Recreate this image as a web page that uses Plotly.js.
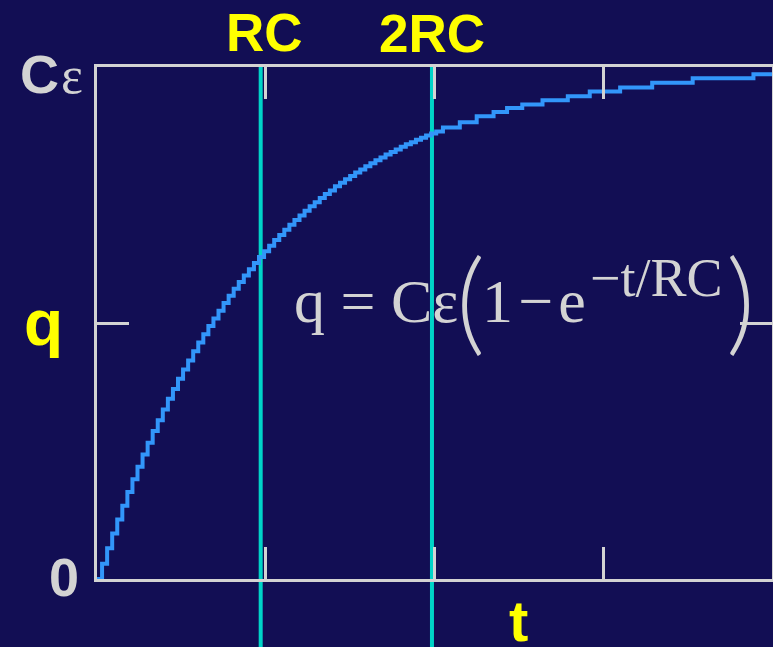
<!DOCTYPE html>
<html>
<head>
<meta charset="utf-8">
<script src="https://cdn.plot.ly/plotly-3.0.1.min.js"></script>
<style>
  html, body { margin: 0; padding: 0; background: #120e54; }
  #chart { width: 773px; height: 647px; }
</style>
</head>
<body>
<div id="chart"></div>
<script>
// Charging capacitor: charge q against time t (t in units of RC, q in units of Cε)
const tVals = [0, 0.03, 0.06, 0.09, 0.12, 0.15, 0.18, 0.21, 0.24, 0.27, 0.30, 0.33, 0.36, 0.39,
  0.42, 0.45, 0.48, 0.51, 0.54, 0.57, 0.60, 0.63, 0.66, 0.69, 0.72, 0.75, 0.78, 0.81, 0.84, 0.87,
  0.90, 0.93, 0.96, 0.99, 1.02, 1.05, 1.08, 1.11, 1.14, 1.17, 1.20, 1.23, 1.26, 1.29, 1.32, 1.35,
  1.38, 1.41, 1.44, 1.47, 1.50, 1.53, 1.56, 1.59, 1.62, 1.65, 1.68, 1.71, 1.74, 1.77, 1.80, 1.83,
  1.86, 1.89, 1.92, 1.95, 1.98, 2.01,
  2.05, 2.15, 2.25, 2.35, 2.43, 2.52, 2.64, 2.79, 2.92, 3.10, 3.29, 3.53, 3.89, 4.00];
const qVals = [0.000, 0.030, 0.060, 0.089, 0.116, 0.143, 0.170, 0.195, 0.219, 0.243, 0.266, 0.289,
  0.310, 0.331, 0.352, 0.371, 0.391, 0.409, 0.427, 0.445, 0.462, 0.478, 0.494, 0.509, 0.524, 0.539,
  0.553, 0.567, 0.580, 0.593, 0.605, 0.617, 0.629, 0.640, 0.651, 0.662, 0.672, 0.682, 0.692, 0.701,
  0.710, 0.719, 0.728, 0.736, 0.744, 0.752, 0.759, 0.767, 0.774, 0.781, 0.787, 0.794, 0.800, 0.806,
  0.812, 0.818, 0.823, 0.829, 0.834, 0.839, 0.844, 0.849, 0.853, 0.858, 0.862, 0.866, 0.870, 0.874,
  0.882, 0.892, 0.904, 0.912, 0.920, 0.927, 0.935, 0.943, 0.952, 0.960, 0.969, 0.978, 0.986, 0.986];

// time-constant markers
const markerT = [0.97, 1.985];
const markerLabels = ['RC', '2RC'];

// axis ticks
const xTicks = [1, 2, 3];
const yTicks = [0.5];

const BG = '#120e54';
const GRAY = '#d3d3d3';
const YELLOW = '#ffff00';
const CYAN = '#00d4c8';
const CURVE = '#3296fa';
const SANS = 'Liberation Sans, Arial, sans-serif';
const SERIF = 'Liberation Serif, Times New Roman, serif';
const THIN = 'Lato, Noto Sans, sans-serif';

const W = 773, H = 647;
const M = { l: 97, r: 1, t: 67, b: 68 };
const PW = W - M.l - M.r, PH = H - M.t - M.b;
// pixel position on the page -> paper coordinates
const px = (x) => (x - M.l) / PW;
const py = (y) => (H - M.b - y) / PH;

function label(text, x, y, size, color, family, weight) {
  return {
    text: text, xref: 'paper', yref: 'paper', x: px(x), y: py(y),
    xanchor: 'center', yanchor: 'middle', showarrow: false, borderpad: 0,
    font: { family: family, size: size, color: color, weight: weight || 'normal' }
  };
}

const annotations = [
  label(markerLabels[0], 264, 32, 53, YELLOW, SANS, 'bold'),
  label(markerLabels[1], 432, 33, 53, YELLOW, SANS, 'bold'),
  label('C', 39, 74, 54, GRAY, SANS, 'bold'),
  label('ε', 72, 75, 52, GRAY, SERIF),
  label('q', 43, 323, 64, YELLOW, SANS, 'bold'),
  label('0', 64, 577, 54, GRAY, SANS, 'bold'),
  label('t', 518, 620, 58, YELLOW, SANS, 'bold'),
  // q = Cε(1 − e^(−t/RC))
  label('q = Cε', 376, 301, 62, GRAY, SERIF),
  label('(', 470, 297, 113, GRAY, THIN, 300),
  label('1\u200a−\u200ae', 534, 301, 62, GRAY, SERIF),
  label('−t/RC', 656, 278, 54, GRAY, SERIF),
  label(')', 740, 297, 113, GRAY, THIN, 300)
];

const shapes = markerT.map(t => ({
  type: 'line', xref: 'x', yref: 'paper', x0: t, x1: t, y0: -0.14, y1: 1,
  line: { color: CYAN, width: 4 }, layer: 'below'
}));

const axisCommon = {
  showgrid: false, zeroline: false, showline: true, mirror: 'ticks',
  linecolor: GRAY, linewidth: 3, ticks: 'inside', ticklen: 32, tickwidth: 3,
  tickcolor: GRAY, showticklabels: false, fixedrange: true
};

const trace = {
  x: tVals, y: qVals, type: 'scatter', mode: 'lines',
  line: { color: CURVE, width: 4, shape: 'hv' }, hoverinfo: 'skip'
};

const layout = {
  width: W, height: H, margin: M,
  paper_bgcolor: BG, plot_bgcolor: BG, showlegend: false,
  xaxis: Object.assign({ range: [0, 4], tickvals: xTicks }, axisCommon),
  yaxis: Object.assign({ range: [0, 1], tickvals: yTicks }, axisCommon),
  annotations: annotations, shapes: shapes
};

Plotly.newPlot('chart', [trace], layout, { displayModeBar: false, staticPlot: true });
</script>
</body>
</html>
